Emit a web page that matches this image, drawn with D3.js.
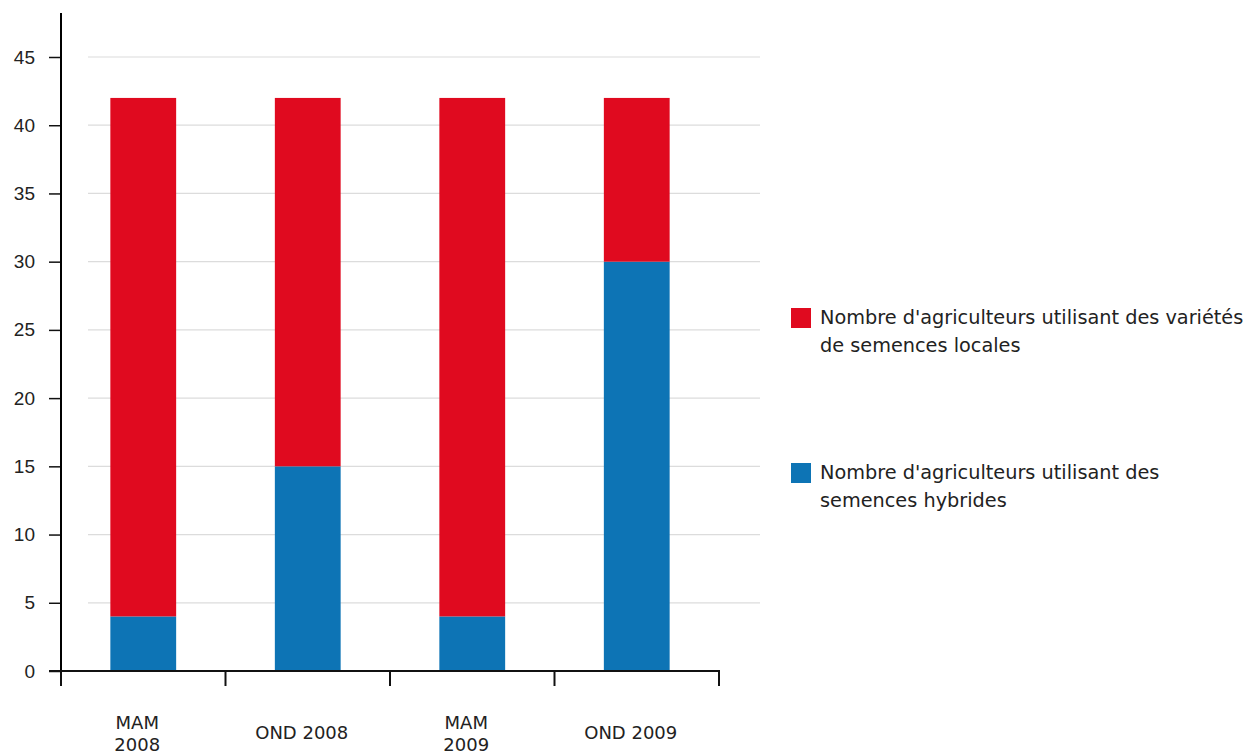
<!DOCTYPE html>
<html><head><meta charset="utf-8">
<script src="https://cdn.jsdelivr.net/npm/d3@7"></script>
<style>body{margin:0;background:#fff;}svg{display:block;font-family:"DejaVu Sans",sans-serif;}</style>
</head><body>
<svg id="c" width="1255" height="756"></svg>
<script>
const categories = [["MAM","2008"],["OND 2008"],["MAM","2009"],["OND 2009"]];
const hybrid = [4, 15, 4, 30];
const local = [38, 27, 38, 12];
const yTicks = [0,5,10,15,20,25,30,35,40,45];
const seriesNames = [
  ["Nombre d'agriculteurs utilisant des variétés","de semences locales"],
  ["Nombre d'agriculteurs utilisant des","semences hybrides"]
];
const colors = ["#E00A1F", "#0D74B5"];

const svg = d3.select("#c");
const x = d3.scaleBand().domain(d3.range(categories.length)).range([61,719]).paddingInner(0.6).paddingOuter(0.3);
const xb = d3.scaleBand().domain(d3.range(categories.length)).range([61,719]);
const y = d3.scaleLinear().domain([0,45]).range([671,57]);

// gridlines
svg.append("g").selectAll("line").data(yTicks.filter(d=>d>0)).join("line")
  .attr("x1",88).attr("x2",760).attr("y1",d=>y(d)).attr("y2",d=>y(d))
  .attr("stroke","#dcdcdc").attr("stroke-width",1.2);

// bars
const stackData = categories.map((c,i)=>({i, hybrid:hybrid[i], local:local[i]}));
const stack = d3.stack().keys(["hybrid","local"])(stackData);
const colorFor = {hybrid: colors[1], local: colors[0]};
svg.append("g").selectAll("g").data(stack).join("g").attr("fill",d=>colorFor[d.key])
  .selectAll("rect").data(d=>d).join("rect")
  .attr("x",d=>x(d.data.i)).attr("width",x.bandwidth())
  .attr("y",d=>y(d[1])).attr("height",d=>y(d[0])-y(d[1]));

// y axis
const ya = svg.append("g").attr("transform","translate(61,0)")
  .call(d3.axisLeft(y).tickValues(yTicks).tickSize(12).tickPadding(14));
ya.select(".domain").remove();
ya.selectAll(".tick line").attr("stroke","#111").attr("stroke-width",1.5);
ya.selectAll(".tick text").attr("font-size",19).attr("fill","#222");
svg.append("line").attr("x1",61).attr("x2",61).attr("y1",13).attr("y2",y(0)).attr("stroke","#000").attr("stroke-width",2);

// x axis
const xa = svg.append("g").attr("transform",`translate(0,${y(0)})`)
  .call(d3.axisBottom(xb).tickValues([]).tickSizeOuter(0));
xa.select(".domain").attr("stroke","#111").attr("stroke-width",2).attr("d","M49,0H720");
svg.append("g").selectAll("line").data(d3.range(categories.length+1)).join("line")
  .attr("x1",d=> d<categories.length ? xb(d) : xb.range()[1]).attr("x2",d=> d<categories.length ? xb(d) : xb.range()[1])
  .attr("y1",y(0)).attr("y2",y(0)+15).attr("stroke","#111").attr("stroke-width",2);

// x labels
const lbl = svg.append("g").selectAll("text").data(categories).join("text")
  .attr("font-size",18).attr("fill","#222").attr("text-anchor","middle")
  .attr("transform",(d,i)=>`translate(${x(i)+x.bandwidth()/2 - 6},${d.length>1?729:739})`);
lbl.selectAll("tspan").data(d=>d).join("tspan").attr("x",0).attr("dy",(d,j)=>j?22:0).text(d=>d);

// legend
const leg = svg.append("g").selectAll("g").data(seriesNames).join("g")
  .attr("transform",(d,i)=>`translate(791,${i?463:308})`);
leg.append("rect").attr("width",20).attr("height",20).attr("fill",(d,i)=>colors[i]);
leg.append("text").attr("x",29).attr("y",16).attr("font-size",19.3).attr("fill","#222")
  .selectAll("tspan").data(d=>d).join("tspan").attr("x",29).attr("dy",(d,j)=>j?28:0).text(d=>d);
</script>
</body></html>
